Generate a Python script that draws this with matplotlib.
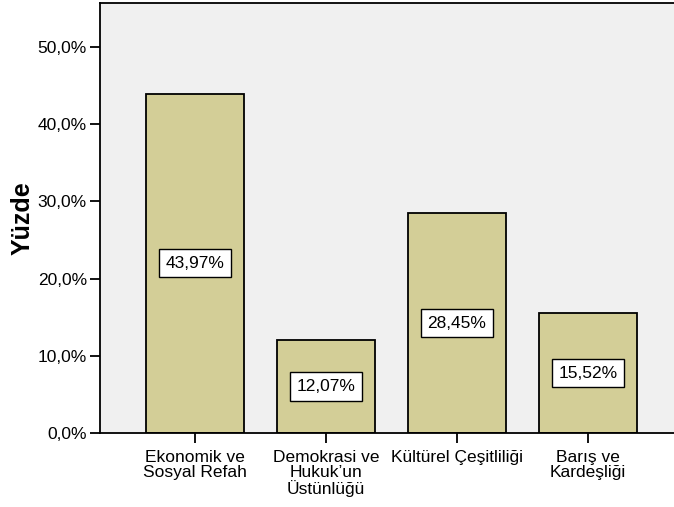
import matplotlib
matplotlib.use("Agg")
import matplotlib.pyplot as plt

# veriler (SPSS çıktısından okunan yüzdeler)
kategoriler = ["Ekonomik ve\nSosyal Refah", "Demokrasi ve\nHukuk\u2019un\nÜstünlüğü",
               "Kültürel Çeşitliliği", "Barış ve\nKardeşliği"]
yuzdeler = [43.97, 12.07, 28.45, 15.52]
yticks = [0, 10, 20, 30, 40, 50]
ytick_etiket = ["0,0%", "10,0%", "20,0%", "30,0%", "40,0%", "50,0%"]

plt.rcParams["font.family"] = ["Liberation Sans", "DejaVu Sans"]

fig = plt.figure(figsize=(6.74, 5.07), dpi=100)
ax = fig.add_axes([100 / 674, 1 - 433 / 507, 583 / 674, 430 / 507])
ax.set_facecolor("#F0F0F0")

x = list(range(len(kategoriler)))
ax.bar(x, yuzdeler, width=0.748, color="#D3CE97", edgecolor="black", linewidth=1.3, zorder=2)

for xi, v in zip(x, yuzdeler):
    ax.text(xi, v / 2, f"{v:.2f}%".replace(".", ","), ha="center", va="center", fontsize=12.5,
            bbox=dict(boxstyle="square,pad=0.38", facecolor="white", edgecolor="black", linewidth=1.0),
            zorder=3)

ax.set_xlim(-0.725, 3.725)
ax.set_ylim(0, 55.7)
ax.set_yticks(yticks)
ax.set_yticklabels(ytick_etiket, fontsize=12.5)
ax.set_xticks(x)
ax.set_xticklabels(kategoriler, fontsize=12.5, linespacing=1.0, va="top")
ax.tick_params(axis="y", direction="out", length=7.5, width=1.3, pad=2)
ax.tick_params(axis="x", direction="out", length=7.5, width=1.3, pad=5)
for s in ax.spines.values():
    s.set_linewidth(1.3)

ax.set_ylabel("Yüzde", fontsize=18, fontweight="bold", labelpad=2)

fig.savefig("out.png", dpi=100)
